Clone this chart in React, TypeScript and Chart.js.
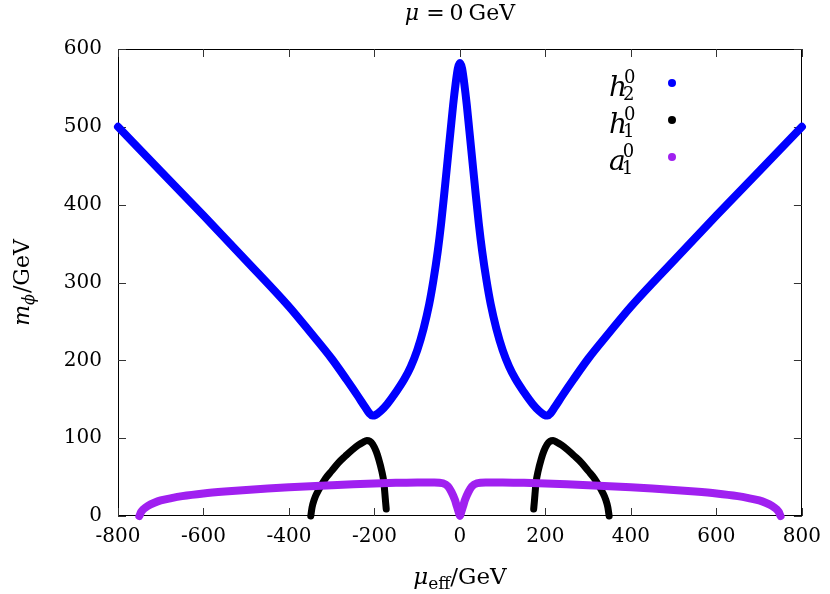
import React, { useEffect, useRef } from 'react';
import { Chart, registerables } from 'chart.js';

Chart.register(...registerables);

// ---------- data ----------
const X_TICKS = [-800, -600, -400, -200, 0, 200, 400, 600, 800];
const Y_TICKS = [0, 100, 200, 300, 400, 500, 600];

// h2^0 (blue)
const H2_X = [-800, -700, -600, -500, -400, -350, -300, -265, -240, -222, -212, -205, -197, -185, -170, -150, -130, -115, -100, -85, -72, -62, -52, -44, -36, -28, -22, -16, -10, -5,
  0,
  5, 10, 16, 22, 28, 36, 44, 52, 62, 72, 85, 100, 115, 130, 150, 170, 185, 197, 205, 212, 222, 240, 265, 300, 350, 400, 500, 600, 700, 800];
const H2_Y = [500, 443, 386, 328, 269, 236, 202, 175, 155, 140, 132, 129, 130, 135, 144, 159, 176, 192, 213, 241, 272, 303, 340, 376, 418, 462, 495, 528, 556, 575,
  582,
  575, 556, 528, 495, 462, 418, 376, 340, 303, 272, 241, 213, 192, 176, 159, 144, 135, 130, 129, 132, 140, 155, 175, 202, 236, 269, 328, 386, 443, 500];

// h1^0 (black), left arc
const H1L_X = [-349, -346, -341, -334, -326, -315, -300, -285, -268, -252, -238, -226, -218, -211, -204, -196, -190, -183, -178, -175.5, -174, -172.5];
const H1L_Y = [0, 11, 21, 30, 38, 48, 58, 68, 77, 85, 91, 95, 97, 96, 92, 83, 73, 58, 43, 28, 18, 9];
// h1^0 (black), right arc
const H1R_X = [172.5, 174, 175.5, 178, 183, 190, 196, 204, 211, 218, 226, 238, 252, 268, 285, 300, 315, 326, 334, 341, 346, 349];
const H1R_Y = [9, 18, 28, 43, 58, 73, 83, 92, 96, 97, 95, 91, 85, 77, 68, 58, 48, 38, 30, 21, 11, 0];

// a1^0 (purple)
const A1_X = [-750, -746, -740, -730, -715, -700, -675, -650, -600, -550, -500, -450, -400, -350, -300, -250, -200, -150, -100, -60, -40, -28, -20, -12, -7, -3,
  0,
  3, 7, 12, 20, 28, 40, 60, 100, 150, 200, 250, 300, 350, 400, 450, 500, 550, 600, 650, 675, 700, 715, 730, 740, 746, 750];
const A1_Y = [0, 5, 9, 13, 17, 20, 23, 25.5, 29, 31.5, 33.5, 35.2, 36.8, 38.3, 39.6, 40.8, 41.8, 42.6, 43.2, 43.2, 42, 38, 31, 21, 12, 5,
  0,
  5, 12, 21, 31, 38, 42, 43.2, 43.2, 42.6, 41.8, 40.8, 39.6, 38.3, 36.8, 35.2, 33.5, 31.5, 29, 25.5, 23, 20, 17, 13, 9, 5, 0];

const LEGEND_LETTERS = ['h', 'h', 'a'];
const LEGEND_SUBS = ['2', '1', '1'];
const LEGEND_SUPS = ['0', '0', '0'];

const BLUE = '#0000ff';
const BLACK = '#000000';
const PURPLE = '#a020f0';
const LEGEND_COLORS = [BLUE, BLACK, PURPLE];

const SERIF = '"DejaVu Serif", serif';

const pts = (xs: number[], ys: number[]) => xs.map((x, i) => ({ x, y: ys[i] }));

type Part = { t: string; size: number; italic?: boolean; dy?: number; gap?: number };

function font(p: Part) {
  return `${p.italic ? 'italic ' : ''}${p.size}px ${SERIF}`;
}

function drawParts(ctx: CanvasRenderingContext2D, parts: Part[], x: number, y: number) {
  const widths = parts.map((p) => {
    ctx.font = font(p);
    return ctx.measureText(p.t).width + (p.gap || 0);
  });
  const total = widths.reduce((a, b) => a + b, 0);
  let cx = x - total / 2;
  ctx.textAlign = 'left';
  ctx.textBaseline = 'alphabetic';
  parts.forEach((p, i) => {
    ctx.font = font(p);
    ctx.fillText(p.t, cx, y + (p.dy || 0));
    cx += widths[i];
  });
}

const overlayPlugin = {
  id: 'overlay',
  beforeDatasetsDraw(chart: any) {
    const { ctx, chartArea } = chart;
    const { left, right, top, bottom } = chartArea;
    const xs = chart.scales.x;
    const ys = chart.scales.y;
    ctx.save();
    ctx.strokeStyle = '#000';
    ctx.lineWidth = 1;
    ctx.strokeRect(Math.round(left) + 0.5, Math.round(top) + 0.5, Math.round(right - left) - 1, Math.round(bottom - top) - 1);
    ctx.strokeStyle = '#333';
    const TL = 8;
    ctx.beginPath();
    X_TICKS.forEach((v) => {
      const px = Math.round(xs.getPixelForValue(v)) + 0.5;
      ctx.moveTo(px, bottom);
      ctx.lineTo(px, bottom - TL);
      ctx.moveTo(px, top);
      ctx.lineTo(px, top + TL);
    });
    Y_TICKS.forEach((v) => {
      const py = Math.round(ys.getPixelForValue(v)) + 0.5;
      ctx.moveTo(left, py);
      ctx.lineTo(left + TL, py);
      ctx.moveTo(right, py);
      ctx.lineTo(right - TL, py);
    });
    ctx.stroke();
    ctx.restore();
  },
  afterDraw(chart: any) {
    const { ctx, chartArea } = chart;
    const { left, right, top, bottom } = chartArea;
    const cx = (left + right) / 2;
    ctx.save();
    ctx.fillStyle = '#000';

    // title
    drawParts(ctx, [
      { t: 'μ', size: 22, italic: true, gap: 7 },
      { t: '=', size: 22, gap: 5 },
      { t: '0', size: 22, gap: 5 },
      { t: 'GeV', size: 22 },
    ], cx, 20);

    // x label
    drawParts(ctx, [
      { t: 'μ', size: 23, italic: true },
      { t: 'eff', size: 17, dy: 5 },
      { t: '/GeV', size: 23 },
    ], cx, 584);

    // y label
    ctx.save();
    ctx.translate(29, (top + bottom) / 2);
    ctx.rotate(-Math.PI / 2);
    drawParts(ctx, [
      { t: 'm', size: 22, italic: true },
      { t: 'ϕ', size: 16, italic: true, dy: 5, gap: 1 },
      { t: '/GeV', size: 22 },
    ], 0, 0);
    ctx.restore();

    // legend
    const dotX = 672;
    const letterX = 609;
    LEGEND_LETTERS.forEach((letter, i) => {
      const dotY = 83 + 37 * i;
      const base = dotY + 13;
      ctx.fillStyle = '#000';
      ctx.textAlign = 'left';
      ctx.textBaseline = 'alphabetic';
      ctx.font = `italic 28px ${SERIF}`;
      ctx.fillText(letter, letterX, base);
      const w = ctx.measureText(letter).width;
      ctx.font = `18px ${SERIF}`;
      ctx.fillText(LEGEND_SUPS[i], letterX + w - 3, base - 13);
      ctx.fillText(LEGEND_SUBS[i], letterX + w - 4, base + 4);
      ctx.fillStyle = LEGEND_COLORS[i];
      ctx.beginPath();
      ctx.arc(dotX, dotY, 4, 0, Math.PI * 2);
      ctx.fill();
    });
    ctx.restore();
  },
};

const lineDs = (label: string, xs: number[], ys: number[], color: string, width: number, order: number) => ({
  label,
  data: pts(xs, ys),
  showLine: true,
  borderColor: color,
  backgroundColor: color,
  borderWidth: width,
  pointRadius: 0,
  pointHoverRadius: 0,
  borderCapStyle: 'round' as const,
  borderJoinStyle: 'round' as const,
  cubicInterpolationMode: 'monotone' as const,
  clip: false as const,
  order,
});

export default function App() {
  const ref = useRef<HTMLCanvasElement>(null);
  useEffect(() => {
    document.body.style.margin = '0';
    const canvas = ref.current;
    if (!canvas) return;
    const tickFont = { family: SERIF, size: 20 };
    const chart = new Chart(canvas, {
      type: 'scatter',
      data: {
        datasets: [
          lineDs('h2', H2_X, H2_Y, BLUE, 8, 3),
          lineDs('h1', H1L_X, H1L_Y, BLACK, 7, 2),
          lineDs('h1b', H1R_X, H1R_Y, BLACK, 7, 2),
          lineDs('a1', A1_X, A1_Y, PURPLE, 8, 1),
        ],
      },
      options: {
        responsive: false,
        animation: false,
        events: [],
        layout: { padding: { left: 0, right: 24, top: 49, bottom: 0 } },
        plugins: {
          legend: { display: false },
          tooltip: { enabled: false },
          title: { display: false },
        },
        scales: {
          x: {
            type: 'linear',
            min: -800,
            max: 800,
            grid: { display: false, drawTicks: false },
            border: { display: false },
            ticks: { stepSize: 200, font: tickFont, color: '#000', padding: 9, maxRotation: 0 },
            afterFit: (s: any) => { s.height = 78; },
          },
          y: {
            type: 'linear',
            min: 0,
            max: 600,
            grid: { display: false, drawTicks: false },
            border: { display: false },
            ticks: { stepSize: 100, font: tickFont, color: '#000', padding: 16 },
            afterFit: (s: any) => { s.width = 118; },
          },
        },
      },
      plugins: [overlayPlugin],
    });
    return () => chart.destroy();
  }, []);
  return (
    <div style={{ width: 830, height: 594 }}>
      <canvas ref={ref} width={830} height={594} style={{ display: 'block' }} />
    </div>
  );
}
